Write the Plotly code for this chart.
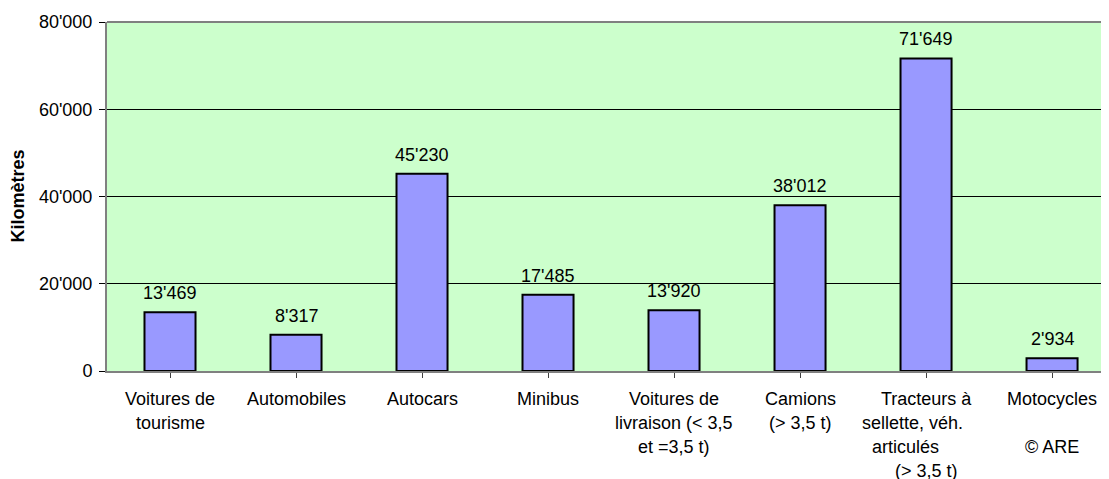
import plotly.graph_objects as go

categories = [
    "Voitures de tourisme",
    "Automobiles",
    "Autocars",
    "Minibus",
    "Voitures de livraison (< 3,5 et =3,5 t)",
    "Camions (> 3,5 t)",
    "Tracteurs à sellette, véh. articulés (> 3,5 t)",
    "Motocycles",
]
label_lines = [
    ["Voitures de", "tourisme"],
    ["Automobiles"],
    ["Autocars"],
    ["Minibus"],
    ["Voitures de", "livraison (< 3,5", "et =3,5 t)"],
    ["Camions", "(> 3,5 t)"],
    ["Tracteurs à", "sellette, véh.", "articulés", "(> 3,5 t)"],
    ["Motocycles", "", "© ARE"],
]
values = [13469, 8317, 45230, 17485, 13920, 38012, 71649, 2934]
y_ticks = [0, 20000, 40000, 60000, 80000]
y_title = "Kilomètres"

FONT = "Arial, 'Liberation Sans', sans-serif"
FS = 18

# per-line horizontal nudges (px) to mimic the original wrapped alignment
line_xshift = {(6, 1): -14, (6, 2): -21}


def fmt(v):
    return f"{v:,}".replace(",", "'")


x_idx = list(range(len(categories)))

fig = go.Figure()
fig.add_trace(go.Bar(
    x=x_idx,
    y=values,
    marker=dict(color="#9999FF", line=dict(color="black", width=2)),
    hoverinfo="skip",
))

annotations = []
for i, v in enumerate(values):
    annotations.append(dict(
        x=i, y=v, xref="x", yref="y", text=fmt(v), showarrow=False,
        xanchor="center", yanchor="bottom", yshift=7,
        font=dict(family=FONT, size=FS, color="black"),
    ))

for i, lines in enumerate(label_lines):
    for k, line in enumerate(lines):
        if not line:
            continue
        annotations.append(dict(
            x=i, y=0, xref="x", yref="paper", text=line, showarrow=False,
            xanchor="center", yanchor="middle",
            yshift=-28 - 24 * k, xshift=line_xshift.get((i, k), 0),
            font=dict(family=FONT, size=FS, color="black"),
        ))

annotations.append(dict(
    x=0, y=0.5, xref="paper", yref="paper", text=f"<b>{y_title}</b>",
    showarrow=False, textangle=-90, xanchor="center", yanchor="middle",
    xshift=-90, font=dict(family=FONT, size=FS, color="black"),
))

# the page body has an 8px default margin, so the figure is sized to fit
fig.update_layout(
    width=1101, height=471, autosize=False,
    margin=dict(l=99, r=0, t=14, b=108, pad=0),
    paper_bgcolor="white",
    plot_bgcolor="#CCFFCC",
    bargap=0.595,
    showlegend=False,
    separators=".'",
    font=dict(family=FONT, size=FS, color="black"),
    annotations=annotations,
    shapes=[dict(type="line", xref="paper", yref="paper", x0=0, x1=1, y0=1, y1=1,
                 line=dict(color="#808080", width=2))],
)

fig.update_xaxes(
    range=[-0.5, 7.452],
    tickvals=x_idx, ticktext=[""] * len(x_idx),
    showgrid=False, zeroline=False,
    showline=True, linecolor="#808080", linewidth=2,
    ticks="outside", ticklen=5, tickcolor="#404040", tickwidth=1,
    tickson="boundaries",
    fixedrange=True,
)
fig.update_yaxes(
    range=[0, 80000],
    tickvals=y_ticks, tickformat=",d",
    showgrid=True, gridcolor="black", gridwidth=1,
    zeroline=False,
    showline=True, linecolor="#808080", linewidth=2,
    ticks="outside", ticklen=6, tickcolor="black", tickwidth=1,
    ticklabelstandoff=3,
    tickfont=dict(family=FONT, size=FS, color="black"),
    fixedrange=True,
)

fig.write_html("out.html")
